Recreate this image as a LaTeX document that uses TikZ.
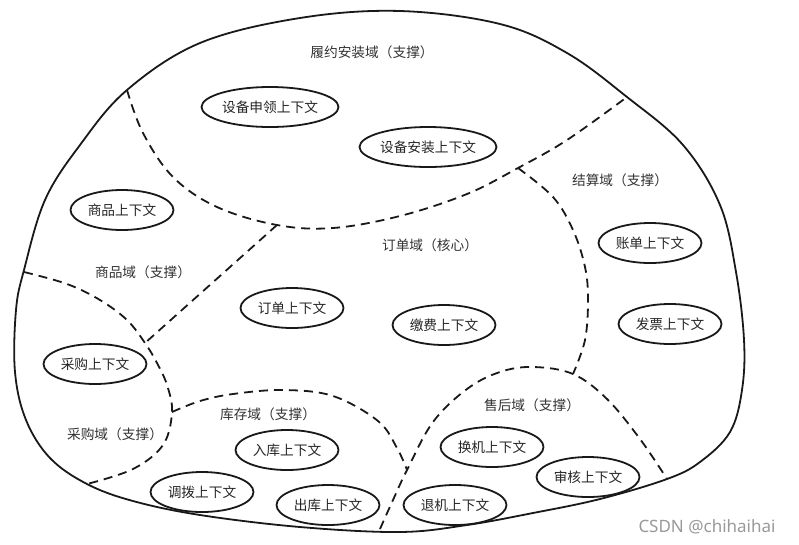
\documentclass[tikz,border=0pt]{standalone}
\usepackage{fontspec}
\newfontfamily\cjk{Noto Sans CJK SC}
\newfontfamily\wmfont{Noto Sans}
\usetikzlibrary{shapes.geometric}
\tikzset{
  outline/.style={line width=1.8pt, draw=black!90},
  border/.style={line width=1.8pt, draw=black!90, dash pattern=on 9pt off 6pt},
  ctx/.style={ellipse, draw=black!90, line width=1.8pt, inner sep=0pt,
              minimum width=103pt, minimum height=40pt,
              font=\cjk\fontsize{13.7}{16}\selectfont, text=black!85},
  ctxwide/.style={ctx, minimum width=137pt},
  dom/.style={inner sep=0pt, font=\cjk\fontsize{13.7}{16}\selectfont, text=black!80},
}
\begin{document}
\begin{tikzpicture}[x=1pt,y=-1pt]
\useasboundingbox (0,0) rectangle (799,544);
\fill[white] (0,0) rectangle (799,544);
% outer boundary
\draw[outline] plot[smooth cycle, tension=0.6] coordinates {
 (400,11) (500,24) (567,53) (627,97) (683,145) (720,205) (736,272) (744,340)
 (742,390) (730,432) (700,462) (667,479) (600,499) (533,513) (467,525) (400,532)
 (300,527) (200,515) (133,501) (87,484) (50,458) (26,420) (15,372) (16,310)
 (24,270) (45,200) (80,145) (127,90) (200,43) (300,18)};
% junctions
\coordinate (jA) at (127,90);
\coordinate (jB) at (627,97);
\coordinate (jC) at (24,272);
\coordinate (jD) at (87,484);
\coordinate (jE) at (380,529);
\coordinate (jF) at (667,479);
\coordinate (jOP) at (277,225);
\coordinate (jPP) at (145,343);
\coordinate (jSO) at (518,168);
\coordinate (jSA) at (573,374);
\coordinate (jInv) at (172,412);
\coordinate (jAS) at (407,470);
% fulfillment boundary
\draw[border] plot[smooth, tension=0.6] coordinates {
 (jA) (143,133) (173,177) (217,207) (jOP) (333,228) (400,216) (467,194) (jSO) (567,140) (jB)};
% order / product
\draw[border] (jOP) -- (jPP);
% product / purchase
\draw[border] plot[smooth, tension=0.6] coordinates {
 (jC) (67,284) (100,300) (127,320) (jPP) (157,363) (167,385) (jInv) (163,445) (133,469) (jD)};
% settlement / order
\draw[border] plot[smooth, tension=0.6] coordinates {
 (jSO) (553,197) (573,230) (585,267) (588,300) (585,340) (jSA)};
% inventory
\draw[border] plot[smooth, tension=0.6] coordinates {
 (jInv) (200,401) (233,394) (283,390) (333,396) (378,421) (397,448) (jAS)};
% after-sales
\draw[border] plot[smooth, tension=0.6] coordinates {
 (jE) (393,500) (jAS) (433,422) (467,389) (500,372) (533,367) (jSA) (607,399) (640,439) (jF)};
% domain labels
\node[dom] (dFul) at (372,52) {履约安装域（支撑）};
\node[dom] (dProd) at (143,272) {商品域（支撑）};
\node[dom] (dOrd) at (430,245) {订单域（核心）};
\node[dom] (dSet) at (620,180) {结算域（支撑）};
\node[dom] (dPur) at (115,434) {采购域（支撑）};
\node[dom] (dInv) at (268,414) {库存域（支撑）};
\node[dom] (dAS) at (532,405) {售后域（支撑）};
% contexts
\node[ctxwide] (c1) at (270,107) {设备申领上下文};
\node[ctxwide] (c2) at (428,147) {设备安装上下文};
\node[ctx] (c3) at (122,210) {商品上下文};
\node[ctx] (c4) at (650,243) {账单上下文};
\node[ctx] (c5) at (292,308) {订单上下文};
\node[ctx] (c6) at (444,325) {缴费上下文};
\node[ctx] (c7) at (670,324) {发票上下文};
\node[ctx] (c8) at (95,364) {采购上下文};
\node[ctx] (c9) at (287,450) {入库上下文};
\node[ctx] (c10) at (202,492) {调拨上下文};
\node[ctx] (c11) at (328,505) {出库上下文};
\node[ctx] (c12) at (492,447) {换机上下文};
\node[ctx] (c13) at (588,477) {审核上下文};
\node[ctx] (c14) at (455,505) {退机上下文};
% watermark
\node[inner sep=0pt, text=black!40, font=\wmfont\fontsize{17}{20}\selectfont] (wm) at (707,527) {CSDN @chihaihai};
\end{tikzpicture}
\end{document}
